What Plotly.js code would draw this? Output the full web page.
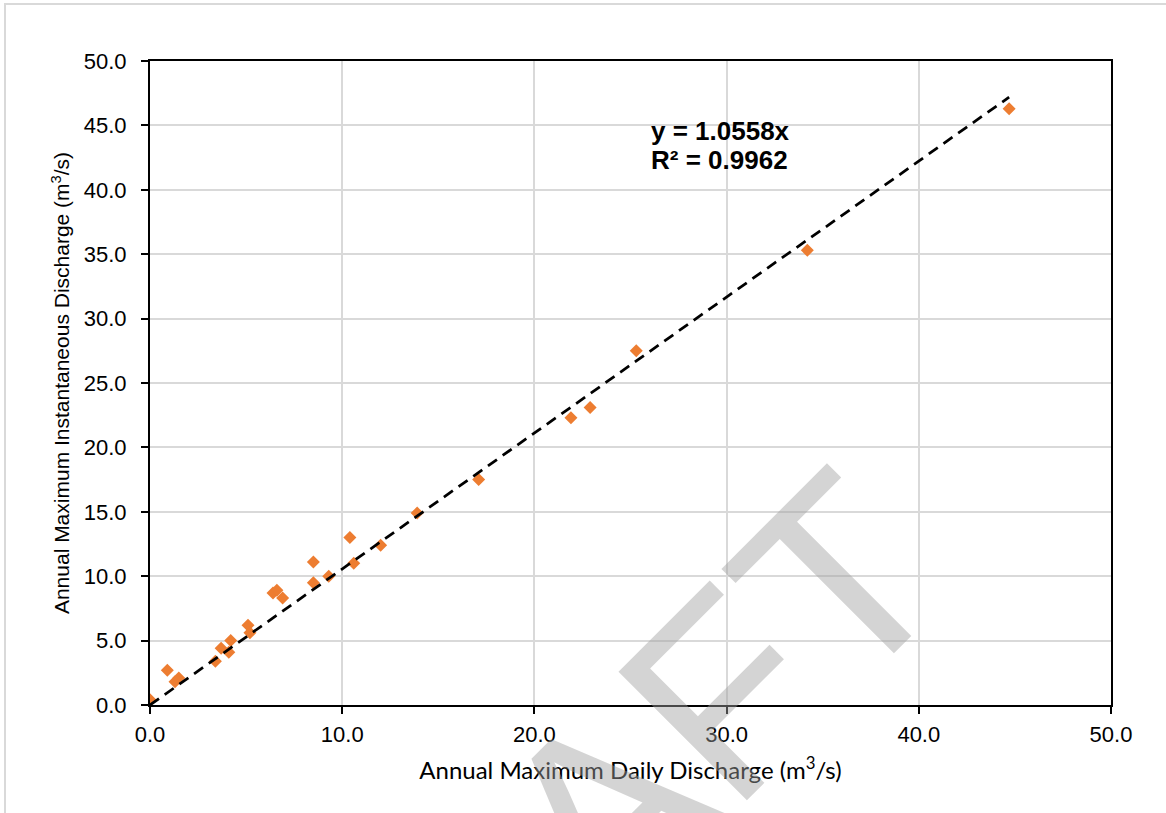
<!DOCTYPE html>
<html>
<head>
<meta charset="utf-8">
<script src="https://cdn.plot.ly/plotly-3.0.1.min.js"></script>
<style>html,body{margin:0;padding:0;background:#fff;}#chart{width:1166px;height:813px;}</style>
</head>
<body>
<div id="chart"></div>
<script>
// Data
const dailyDischarge = [0.0, 0.9, 1.3, 1.5, 3.4, 3.7, 4.1, 4.2, 5.1, 5.2, 6.4, 6.6, 6.9, 8.5, 8.5, 9.3, 10.6, 10.4, 12.0, 13.9, 17.1, 21.9, 22.9, 25.3, 34.2, 44.7];
const instantDischarge = [0.4, 2.7, 1.8, 2.1, 3.4, 4.4, 4.1, 5.0, 6.2, 5.6, 8.7, 8.9, 8.3, 11.1, 9.5, 10.0, 11.0, 13.0, 12.4, 14.9, 17.5, 22.3, 23.1, 27.5, 35.3, 46.3];
const trendSlope = 1.0558;
const trendR2 = 0.9962;
const xTickVals = [0, 10, 20, 30, 40, 50];
const yTickVals = [0, 5, 10, 15, 20, 25, 30, 35, 40, 45, 50];
const xTitle = 'Annual Maximum Daily Discharge (m<sup>3</sup>/s)';
const yTitle = 'Annual Maximum Instantaneous Discharge (m<sup>3</sup>/s)';
const watermarkText = 'DRAFT';

const xMax = Math.max(...dailyDischarge);
const trendX = [0, xMax];
const trendY = trendX.map(v => trendSlope * v);

const traces = [
  {
    x: dailyDischarge, y: instantDischarge, type: 'scatter', mode: 'markers',
    marker: {symbol: 'diamond', color: '#ED7D31', size: 10, line: {width: 0}},
    showlegend: false, hoverinfo: 'x+y'
  },
  {
    x: trendX, y: trendY, type: 'scatter', mode: 'lines',
    line: {color: '#000000', width: 2.75, dash: '11px,7px'},
    showlegend: false, hoverinfo: 'skip'
  }
];

const axisCommon = {
  showline: true, linecolor: '#000', linewidth: 2, mirror: true,
  ticks: 'outside', ticklen: 7, tickwidth: 2, tickcolor: '#000',
  showgrid: true, gridcolor: '#d9d9d9', gridwidth: 2,
  zeroline: false, tickformat: '.1f',
  tickfont: {family: 'Liberation Sans, Arial, sans-serif', size: 22, color: '#000'}
};

const layout = {
  width: 1166, height: 813,
  margin: {l: 150, r: 55, t: 61, b: 108},
  paper_bgcolor: '#fff', plot_bgcolor: '#fff',
  xaxis: Object.assign({}, axisCommon, {
    range: [0, 50], tickvals: xTickVals, ticklabelstandoff: 2,
    title: {text: xTitle, standoff: 16, font: {family: 'Lato, Carlito, sans-serif', size: 24, color: '#000'}}
  }),
  yaxis: Object.assign({}, axisCommon, {
    range: [0, 50], tickvals: yTickVals, ticklabelstandoff: 10,
    title: {text: yTitle, standoff: 8, font: {family: 'Liberation Sans, Arial, sans-serif', size: 21, color: '#000'}}
  }),
  annotations: [
    {
      xref: 'x', yref: 'y', x: 25.96, y: 44.6, xanchor: 'left', yanchor: 'middle', align: 'left',
      text: '<b>y = ' + trendSlope.toFixed(4) + 'x</b>',
      showarrow: false, font: {family: 'Liberation Sans, Arial, sans-serif', size: 26, color: '#000'}
    },
    {
      xref: 'x', yref: 'y', x: 25.96, y: 42.35, xanchor: 'left', yanchor: 'middle', align: 'left',
      text: '<b>R² = ' + trendR2.toFixed(4) + '</b>',
      showarrow: false, font: {family: 'Liberation Sans, Arial, sans-serif', size: 26, color: '#000'}
    },
    {
      xref: 'paper', yref: 'paper', x: 0.452, y: -0.2, xanchor: 'center', yanchor: 'middle',
      text: watermarkText, textangle: -45, showarrow: false,
      font: {family: 'Liberation Sans, Arial, sans-serif', size: 264, color: 'rgba(160,160,160,0.45)'}
    }
  ],
  shapes: [
    {
      type: 'rect', xref: 'paper', yref: 'paper', layer: 'below',
      x0: (5 - 150) / 961, x1: 1.2, y0: -0.3, y1: (705 - 4) / 644,
      line: {color: '#d9d9d9', width: 2}, fillcolor: 'rgba(0,0,0,0)'
    }
  ]
};

Plotly.newPlot('chart', traces, layout, {displayModeBar: false, staticPlot: true});
</script>
</body>
</html>
